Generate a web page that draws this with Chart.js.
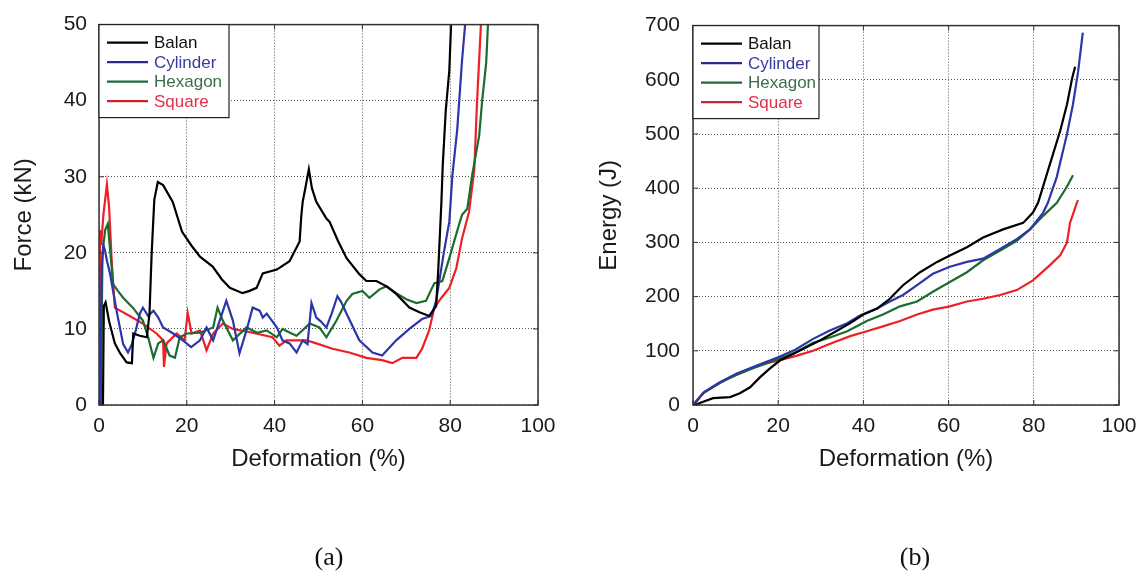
<!DOCTYPE html>
<html><head><meta charset="utf-8">
<script src="https://cdn.jsdelivr.net/npm/chart.js@4.4.1/dist/chart.umd.min.js"></script>
<style>
html,body{margin:0;padding:0;background:#fff;overflow:hidden;width:1146px;height:574px}
#wrap{position:relative;width:1146px;height:574px;overflow:hidden;background:#fff}
canvas{position:absolute;top:0}
#ca{left:0}
#cb{left:573px}
</style></head><body>
<div id="wrap"><canvas id="ca" width="658" height="574"></canvas><canvas id="cb" width="684" height="574"></canvas></div>
<script>
// ---------- data ----------
const seriesNames = ['Balan', 'Cylinder', 'Hexagon', 'Square'];
const deformationTicks = [0, 20, 40, 60, 80, 100];
const forceTicks = [0, 10, 20, 30, 40, 50];
const energyTicks = [0, 100, 200, 300, 400, 500, 600, 700];

// (a) Force (kN) vs Deformation (%)  -> [deformation, force]
const balanForce = [[0.2,0],[0.9,0],[1.1,13],[1.5,13.5],[2.3,11],[3.6,8.1],[4.8,6.8],[6.3,5.6],[7.5,5.5],[7.8,9.4],[9.3,9.1],[10.9,8.9],[11.5,12],[12.0,20],[12.6,27],[13.4,29.3],[14.6,28.9],[16.8,26.7],[18.9,22.8],[21,21],[23,19.5],[25.9,18.2],[28,16.5],[29.8,15.4],[32.7,14.7],[34.3,15],[35.9,15.4],[37.3,17.3],[40.5,17.8],[43.4,18.9],[45.7,21.5],[46.1,25],[46.4,26.7],[47.0,28.5],[47.8,31],[48.5,28.5],[49.5,26.7],[51.8,24.5],[52.5,24.1],[54.5,21.5],[56.4,19.3],[59.3,17.2],[60.9,16.3],[63.2,16.3],[65.5,15.6],[67.7,14.6],[70.7,12.8],[73,12.2],[75.2,11.7],[76.8,13],[77.3,18],[77.7,23],[78.0,26.7],[78.3,31.5],[79.0,38.8],[79.8,44],[80.2,50]];
const cylinderForce = [[0,0],[0.3,0],[0.6,18],[1.0,21],[1.4,20.2],[1.8,19],[2.5,17.3],[3.2,15],[4,12.4],[5.5,8],[6.6,6.9],[7.5,8],[8.2,9.4],[9.3,12],[10,12.8],[11.2,11.7],[12.4,12.4],[13.5,11.5],[14.6,10.2],[16.9,9.4],[19.1,8.5],[21,7.6],[23,8.5],[24.5,10.2],[26,8.5],[27.5,11.1],[29,13.7],[30.5,11.1],[32,6.8],[33.6,9.8],[35,12.8],[36.6,12.4],[37.3,11.5],[38.2,12],[40.5,10.2],[41.8,8.5],[43.4,8.1],[45,6.9],[46.4,8.5],[47.5,8],[48.4,13.4],[49.5,11.5],[50.5,11],[51.8,10.2],[53,12],[54.3,14.3],[55.2,13.5],[56.4,12],[59.3,8.5],[62.3,6.9],[64.5,6.5],[67.7,8.5],[70.7,10],[73.6,11.3],[75.7,11.7],[76.8,13.7],[78.6,20.2],[79.8,24.1],[80.5,30.2],[81.6,36.2],[82.7,45.3],[83.4,50]];
const hexagonForce = [[0,0],[0.4,0],[0.8,20],[1.4,23],[2,23.8],[2.6,20],[3.2,15.9],[4.3,15],[5.5,14.1],[7.7,12.8],[10,11.1],[11.2,8.9],[12.4,6.2],[13.5,8.1],[14.6,8.5],[16.1,6.5],[17.3,6.2],[18.4,8.9],[20,9.4],[23,9.5],[26,10.2],[27,12.8],[28.2,11.1],[30.5,8.5],[33.6,10.2],[36,9.5],[38.2,9.8],[40.5,8.9],[41.8,10],[43.5,9.5],[45,9.1],[48,10.7],[50.2,10.2],[51.8,8.9],[54.1,11.1],[56.4,13.7],[57.7,14.6],[60,15],[61.6,14.1],[63.9,15.2],[65.5,15.6],[67.7,14.7],[70,13.9],[72.3,13.4],[74.5,13.7],[75.7,15.2],[76.4,16],[78.2,16.3],[79.8,19.3],[82,23.7],[82.7,25],[83.9,25.8],[85,30.2],[86.6,35.4],[87.3,40.1],[88.2,45],[88.6,50]];
const squareForce = [[0,0],[0.2,23],[0.5,21],[1.0,25],[1.5,27.5],[1.8,29],[2.3,26],[2.9,18.9],[3.6,12.8],[4.8,12.4],[7,11.7],[10,10.7],[13.1,9.4],[14.6,8.5],[14.8,5],[15.4,8.1],[17.7,9.4],[19.5,8.5],[20.2,12.1],[21.1,9.4],[23,9.8],[24.5,7.2],[26,9.4],[28.2,10.7],[30.5,10],[35,9.5],[39.5,8.9],[41.1,7.8],[42.7,8.5],[44.1,8.5],[47.3,8.5],[49.5,8.1],[53.2,7.4],[57,6.9],[60.9,6.2],[64.5,5.9],[66.8,5.5],[69.1,6.2],[72.3,6.2],[73.6,7.4],[75.2,9.8],[76.4,12.8],[78,14.1],[79.8,15.4],[81.4,18],[82.7,21.9],[84.3,25.4],[85.5,31],[86.1,39.7],[87,50]];

// (b) Energy (J) vs Deformation (%)  -> [deformation, energy]
const balanEnergy = [[0,0],[0.5,0],[1.6,3.6],[4.7,12.7],[8.7,14.5],[11,21.8],[13.4,32.7],[15.7,51],[18,67],[20.4,82],[25,100],[30,120],[36.9,151],[40,167],[43.2,178],[46.2,196],[49.3,221],[53.3,245],[57.3,264],[60.3,276],[64.3,291],[68.1,309],[72.8,324],[77.5,336],[79.8,355],[81,373],[83.1,427],[86.2,506],[87.8,555],[89,603],[89.7,624]];
const cylinderEnergy = [[0,0],[2.6,24],[6.3,42],[10.3,58],[14.1,70],[17.4,80],[20,88],[24,102],[28.2,122],[32,137],[36.2,151],[39.2,165],[43.2,178],[46.2,191],[49.3,203],[52.6,221],[56.3,242],[60.3,255],[64.3,264],[68.1,270],[72.1,288],[76,306],[79.1,324],[82.2,355],[83.3,373],[85.4,421],[87.8,500],[89.2,555],[90.4,615],[91.5,687]];
const hexagonEnergy = [[0,0],[2.6,23],[6.3,41],[10.3,56],[14.1,68],[17.4,77],[20,85],[24,97],[28.2,115],[32,124],[36.2,136],[40.8,155],[44.6,167],[48.6,182],[52.6,191],[56.3,209],[60.3,227],[64.3,245],[68.1,267],[72.1,285],[76,303],[79.1,324],[82.2,349],[85.4,373],[87.8,403],[89.2,424]];
const squareEnergy = [[0,0],[1,8],[2.3,21.8],[4.7,33],[8.7,51],[12.7,64],[16.4,76],[20,82],[24.4,91],[28.2,100],[32.2,113],[36.9,127],[40.8,136],[44.6,145],[48.6,155],[52.6,167],[56.3,176],[60.3,182],[64.3,191],[68.1,196],[72.1,203],[76,212],[79.8,230],[83.8,258],[86.2,276],[87.8,300],[88.5,336],[90.1,373],[90.4,378]];

// ---------- styles ----------
const lineColors = ['#000000', '#2b36a8', '#1c6b30', '#f01e25'];
const legendLineColors = ['#000000', '#2a2a88', '#1d6a3a', '#c42630'];
const legendTextColors = ['#111111', '#3a3a9c', '#3b6e4e', '#e0304a'];
const SANS = '"Liberation Sans", Arial, Helvetica, sans-serif';
const SERIF = '"Liberation Serif", "Times New Roman", serif';
Chart.defaults.font.family = SANS;

const framePlugin = {
  id: 'frame',
  afterDatasetsDraw(chart) {
    const {ctx, chartArea: a, scales} = chart;
    ctx.save();
    ctx.strokeStyle = '#333';
    ctx.lineWidth = 1;
    ctx.beginPath();
    scales.x.ticks.forEach(t => {
      const px = scales.x.getPixelForValue(t.value);
      ctx.moveTo(px, a.bottom); ctx.lineTo(px, a.bottom - 5);
      ctx.moveTo(px, a.top); ctx.lineTo(px, a.top + 5);
    });
    scales.y.ticks.forEach(t => {
      const py = scales.y.getPixelForValue(t.value);
      ctx.moveTo(a.left, py); ctx.lineTo(a.left + 5, py);
      ctx.moveTo(a.right, py); ctx.lineTo(a.right - 5, py);
    });
    ctx.stroke();
    ctx.lineWidth = 1.5;
    ctx.strokeRect(a.left, a.top, a.right - a.left, a.bottom - a.top);
    ctx.restore();
  }
};

const boxLegendPlugin = {
  id: 'boxLegend',
  afterDatasetsDraw(chart, args, opts) {
    const {ctx, chartArea: a} = chart;
    const w = opts.width, h = 93;
    ctx.save();
    ctx.fillStyle = '#fff';
    ctx.fillRect(a.left, a.top, w, h);
    ctx.strokeStyle = '#222';
    ctx.lineWidth = 1.2;
    ctx.strokeRect(a.left, a.top, w, h);
    ctx.font = '17px ' + SANS;
    ctx.textBaseline = 'middle';
    ctx.textAlign = 'left';
    chart.data.datasets.forEach((ds, i) => {
      const y = a.top + 18 + i * 19.5;
      ctx.strokeStyle = legendLineColors[i];
      ctx.lineWidth = 2.2;
      ctx.beginPath(); ctx.moveTo(a.left + 8, y); ctx.lineTo(a.left + 49, y); ctx.stroke();
      ctx.fillStyle = legendTextColors[i];
      ctx.fillText(ds.label, a.left + 55, y + 1);
    });
    ctx.restore();
  }
};

function makeChart(id, cfg) {
  const datasets = cfg.series.map((pts, i) => ({
    label: seriesNames[i],
    data: pts.map(p => ({x: p[0], y: p[1]})),
    borderColor: lineColors[i],
    backgroundColor: lineColors[i],
    borderWidth: 2.2,
    pointRadius: 0,
    tension: 0,
    fill: false
  }));
  return new Chart(document.getElementById(id), {
    type: 'line',
    data: {datasets},
    plugins: [framePlugin, boxLegendPlugin],
    options: {
      responsive: false,
      animation: false,
      devicePixelRatio: 1,
      layout: {padding: {left: 0, right: 0, top: 21, bottom: 0}},
      plugins: {
        legend: {display: false},
        tooltip: {enabled: false},
        boxLegend: {width: cfg.legendWidth},
        title: {
          display: true, text: cfg.caption, position: 'bottom',
          font: {family: SERIF, size: 26, weight: 'normal'}, color: '#111',
          padding: {top: 0, bottom: 0}
        }
      },
      scales: {
        x: {
          type: 'linear', min: 0, max: 100,
          afterBuildTicks: s => { s.ticks = deformationTicks.map(v => ({value: v})); },
          afterFit: s => { s.height = 137.8; },
          grid: {color: '#555', lineWidth: 1, drawTicks: false},
          border: {display: false, dash: [1, 2]},
          ticks: {padding: 9, color: '#1a1a1a', font: {size: 21}},
          title: {display: true, text: 'Deformation (%)', color: '#1a1a1a', font: {size: 24}, padding: {top: 0, bottom: 69}}
        },
        y: {
          type: 'linear', min: cfg.yTicks[0], max: cfg.yTicks[cfg.yTicks.length - 1],
          afterBuildTicks: s => { s.ticks = cfg.yTicks.map(v => ({value: v})); },
          afterFit: s => { s.width = cfg.yWidth; },
          grid: {color: '#555', lineWidth: 1, drawTicks: false},
          border: {display: false, dash: [1, 2]},
          ticks: {padding: cfg.yTickPad, color: '#1a1a1a', font: {size: 21}},
          title: {display: true, text: cfg.yTitle, color: '#1a1a1a', font: {size: 24}, padding: {top: cfg.yTitlePad, bottom: 0}}
        },
        spacer: {
          type: 'linear', position: 'right', display: true,
          afterFit: s => { s.width = cfg.rightWidth; },
          grid: {display: false, drawOnChartArea: false},
          border: {display: false},
          ticks: {display: false}
        }
      }
    }
  });
}

makeChart('ca', {
  series: [balanForce, cylinderForce, hexagonForce, squareForce],
  yTicks: forceTicks, yTitle: 'Force (kN)', caption: '(a)',
  yWidth: 99, rightWidth: 120, yTickPad: 12, yTitlePad: 10, legendWidth: 130
});
makeChart('cb', {
  series: [balanEnergy, cylinderEnergy, hexagonEnergy, squareEnergy],
  yTicks: energyTicks, yTitle: 'Energy (J)', caption: '(b)',
  yWidth: 120, rightWidth: 138, yTickPad: 13, yTitlePad: 22, legendWidth: 126
});
</script>
</body></html>
